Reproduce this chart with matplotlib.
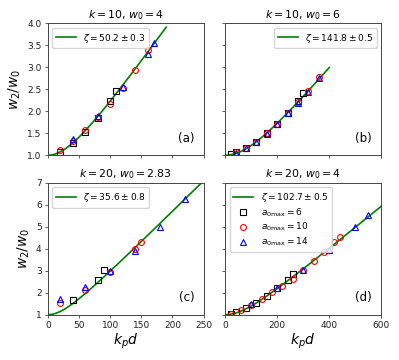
import numpy as np
import matplotlib
matplotlib.use("Agg")
import matplotlib.pyplot as plt

# panel settings: (k, w0), fitted zeta and its error
titles = [r"$k = 10$, $w_0 = 4$", r"$k = 10$, $w_0 = 6$",
          r"$k = 20$, $w_0 = 2.83$", r"$k = 20$, $w_0 = 4$"]
zetas = [50.2, 141.8, 35.6, 102.7]
zeta_errs = [0.3, 0.5, 0.8, 0.5]
fit_xmax = [190, 400, 250, 600]
panel_tags = ["(a)", "(b)", "(c)", "(d)"]
a0max = [6, 10, 14]

# (a) k=10, w0=4
a_sq_x = [20, 40, 60, 80, 100, 110]
a_sq_y = [1.07, 1.28, 1.53, 1.84, 2.24, 2.46]
a_ci_x = [20, 40, 60, 80, 100, 120, 140, 160]
a_ci_y = [1.11, 1.32, 1.57, 1.86, 2.17, 2.52, 2.93, 3.39]
a_tr_x = [40, 80, 120, 160, 170]
a_tr_y = [1.37, 1.90, 2.55, 3.31, 3.55]

# (b) k=10, w0=6
b_sq_x = [20, 40, 80, 120, 160, 200, 240, 280, 300]
b_sq_y = [1.03, 1.07, 1.16, 1.31, 1.50, 1.71, 1.96, 2.24, 2.41]
b_ci_x = [40, 80, 120, 160, 200, 240, 280, 320, 360]
b_ci_y = [1.07, 1.16, 1.31, 1.50, 1.71, 1.96, 2.20, 2.45, 2.78]
b_tr_x = [40, 80, 120, 160, 200, 240, 280, 320, 360]
b_tr_y = [1.06, 1.16, 1.30, 1.49, 1.70, 1.95, 2.19, 2.44, 2.76]

# (c) k=20, w0=2.83
c_sq_x = [40, 80, 90]
c_sq_y = [1.65, 2.58, 3.03]
c_ci_x = [20, 60, 100, 140, 150]
c_ci_y = [1.55, 2.10, 2.93, 3.97, 4.33]
c_tr_x = [20, 60, 100, 140, 180, 220]
c_tr_y = [1.72, 2.25, 3.00, 3.92, 4.97, 6.25]

# (d) k=20, w0=4
d_sq_x = [20, 40, 80, 120, 160, 200, 240, 260]
d_sq_y = [1.03, 1.11, 1.29, 1.55, 1.86, 2.21, 2.59, 2.85]
d_ci_x = [20, 60, 100, 140, 180, 220, 260, 300, 340, 380, 420, 440]
d_ci_y = [1.03, 1.22, 1.45, 1.71, 2.01, 2.29, 2.64, 3.05, 3.42, 3.85, 4.31, 4.54]
d_tr_x = [100, 200, 300, 400, 500, 550]
d_tr_y = [1.49, 2.20, 3.05, 3.94, 4.97, 5.53]

squares = [(a_sq_x, a_sq_y), (b_sq_x, b_sq_y), (c_sq_x, c_sq_y), (d_sq_x, d_sq_y)]
circles = [(a_ci_x, a_ci_y), (b_ci_x, b_ci_y), (c_ci_x, c_ci_y), (d_ci_x, d_ci_y)]
triangles = [(a_tr_x, a_tr_y), (b_tr_x, b_tr_y), (c_tr_x, c_tr_y), (d_tr_x, d_tr_y)]

legend_loc = ["upper left", "upper right", "upper left", "upper left"]

plt.rcParams["axes.linewidth"] = 0.7
plt.rcParams["axes.edgecolor"] = "#444444"
plt.rcParams["xtick.color"] = "#444444"
plt.rcParams["ytick.color"] = "#444444"
plt.rcParams["xtick.labelcolor"] = "#222222"
plt.rcParams["ytick.labelcolor"] = "#222222"

fig, axes = plt.subplots(2, 2, figsize=(3.99, 3.6), dpi=100,
                         sharex="col", sharey="row")
fig.subplots_adjust(left=0.12, right=0.955, top=0.935, bottom=0.126,
                    wspace=0.14, hspace=0.21)

for i, ax in enumerate(axes.flat):
    xf = np.linspace(0, fit_xmax[i], 200)
    wf = np.sqrt(1 + (xf / zetas[i]) ** 2)
    ax.plot(xf, wf, color="green", lw=1.2,
            label=r"$\zeta = %.1f \pm %.1f$" % (zetas[i], zeta_errs[i]))
    ms = 4.2
    mew = 0.8
    ax.plot(*squares[i], "s", mfc="none", mec="black", ms=ms, mew=mew,
            label=r"$a_{0\rm max} = %d$" % a0max[0])
    ax.plot(*circles[i], "o", mfc="none", mec="red", ms=ms, mew=mew,
            label=r"$a_{0\rm max} = %d$" % a0max[1])
    ax.plot(*triangles[i], "^", mfc="none", mec="blue", ms=ms, mew=mew,
            label=r"$a_{0\rm max} = %d$" % a0max[2])
    ax.set_title(titles[i], fontsize=7.8, pad=4)
    ax.text(0.94, 0.08, panel_tags[i], transform=ax.transAxes,
            ha="right", va="bottom", fontsize=8.5)
    ax.tick_params(labelsize=6.5, length=2.5, width=0.6, pad=2)
    h, l = ax.get_legend_handles_labels()
    if i == 3:
        ax.legend(h, l, loc=legend_loc[i], fontsize=6.5, handlelength=2.2,
                  labelspacing=0.25)
    else:
        ax.legend(h[:1], l[:1], loc=legend_loc[i], fontsize=6.5,
                  handlelength=2.2)

axes[0, 0].set_xlim(0, 250)
axes[0, 0].set_xticks([0, 50, 100, 150, 200, 250])
axes[0, 1].set_xlim(0, 600)
axes[0, 1].set_xticks([0, 200, 400, 600])
axes[0, 0].set_ylim(1, 4)
axes[0, 0].set_yticks(np.arange(1, 4.01, 0.5))
axes[1, 0].set_ylim(1, 7)
axes[1, 0].set_yticks(range(1, 8))

for ax in axes[:, 0]:
    ax.set_ylabel(r"$w_2/w_0$", fontsize=10, labelpad=3)
for ax in axes[1, :]:
    ax.set_xlabel(r"$k_pd$", fontsize=10, labelpad=1)

fig.savefig("out.png", dpi=100)
